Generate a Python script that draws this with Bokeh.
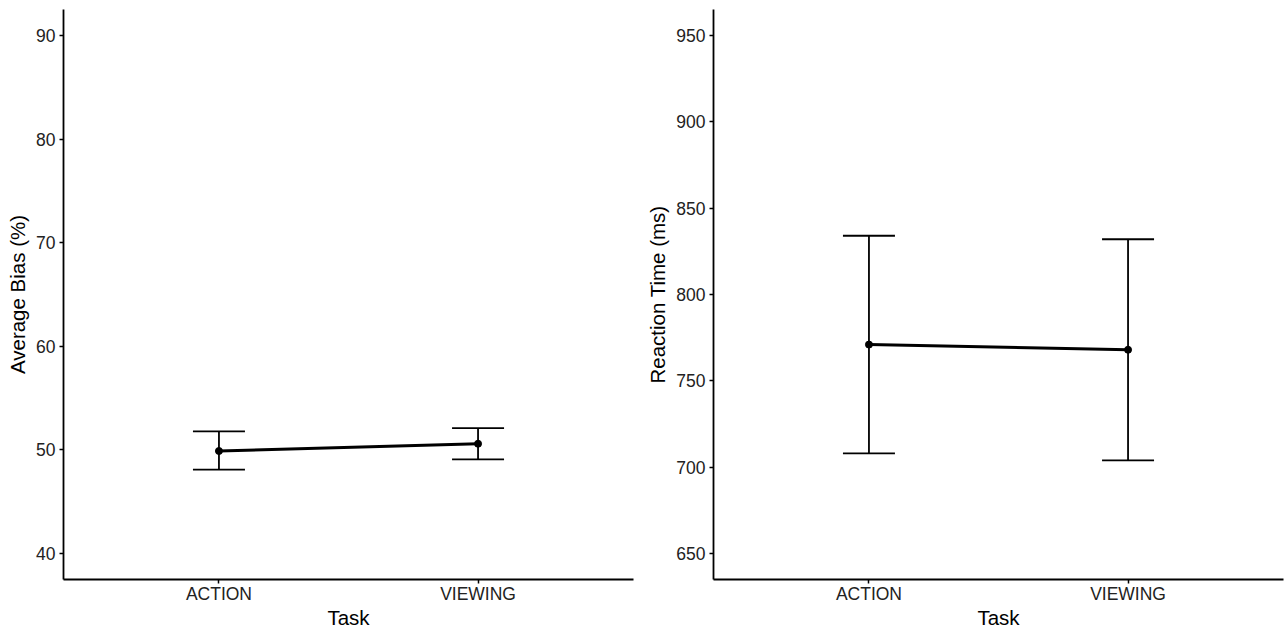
from bokeh.plotting import figure
from bokeh.layouts import row
from bokeh.models import Range1d, FixedTicker, Whisker, TeeHead, ColumnDataSource
from bokeh.embed import file_html
from bokeh.resources import INLINE

tasks = ["ACTION", "VIEWING"]
bias_mean = [49.9, 50.6]
bias_lower = [48.1, 49.1]
bias_upper = [51.8, 52.1]
rt_mean = [771, 768]
rt_lower = [708, 704]
rt_upper = [834, 832]

bias_ticks = [40, 50, 60, 70, 80, 90]
rt_ticks = [650, 700, 750, 800, 850, 900, 950]

FONT = "Liberation Sans"
TXT = "#222222"


def panel(mean, lower, upper, yr, yticks, ylabel, bl, br):
    x = [i + 1 for i in range(len(tasks))]
    src = ColumnDataSource(dict(x=x, m=mean, lo=lower, hi=upper))
    p = figure(width=642, height=631, output_backend="svg", toolbar_location=None,
               x_range=Range1d(0.4, len(tasks) + 0.6), y_range=Range1d(*yr),
               min_border_left=bl, min_border_right=br, min_border_top=9,
               min_border_bottom=52)
    p.outline_line_color = None
    p.grid.visible = False
    p.background_fill_color = "white"
    p.border_fill_color = "white"

    w = Whisker(source=src, base="x", lower="lo", upper="hi", line_color="black",
                line_width=1.8,
                upper_head=TeeHead(size=52, line_color="black", line_width=1.8),
                lower_head=TeeHead(size=52, line_color="black", line_width=1.8))
    p.add_layout(w)
    p.line("x", "m", source=src, line_color="black", line_width=3)
    p.scatter("x", "m", source=src, size=7, color="black")

    p.xaxis.ticker = FixedTicker(ticks=x)
    p.xaxis.major_label_overrides = {xi: t for xi, t in zip(x, tasks)}
    p.yaxis.ticker = FixedTicker(ticks=yticks)
    for ax in (p.xaxis, p.yaxis):
        ax.axis_line_color = "black"
        ax.axis_line_width = 1.8
        ax.major_tick_line_color = "black"
        ax.major_tick_line_width = 1.5
        ax.major_tick_out = 4
        ax.major_tick_in = 0
        ax.minor_tick_line_color = None
        ax.major_label_text_font = FONT
        ax.major_label_text_font_size = "17.5px"
        ax.major_label_text_color = TXT
        ax.axis_label_text_font = FONT
        ax.axis_label_text_font_size = "20.5px"
        ax.axis_label_text_font_style = "normal"
        ax.axis_label_text_color = "black"
    p.xaxis.major_label_standoff = 0
    p.yaxis.major_label_standoff = 4
    p.xaxis.axis_label = "Task"
    p.xaxis.axis_label_standoff = -1
    p.yaxis.axis_label = ylabel
    p.yaxis.axis_label_standoff = 4
    return p


p1 = panel(bias_mean, bias_lower, bias_upper, (37.5, 92.5), bias_ticks,
           "Average Bias (%)", 63, 9)
p2 = panel(rt_mean, rt_lower, rt_upper, (635, 965), rt_ticks,
           "Reaction Time (ms)", 71, 1)

layout = row(p1, p2)
open("out.html", "w").write(file_html(layout, INLINE))
